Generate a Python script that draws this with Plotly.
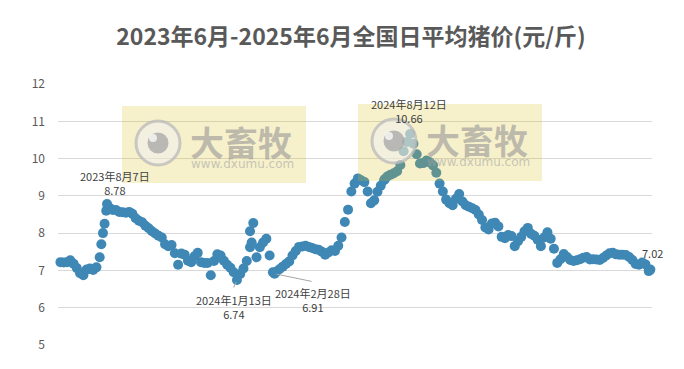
import pandas as pd
import plotly.graph_objects as go

TITLE = "2023年6月-2025年6月全国日平均猪价(元/斤)"

# Regular sampling of the daily series, every 4 days
grid_start = "2023-06-07"
grid_step_days = 4
grid_prices = [
    7.22, 7.22, 7.21, 7.22, 7.27, 7.18, 7.06, 6.92, 6.87, 7.02,
    7.05, 7.01, 7.08, 7.35, 8.00, 8.60, 8.68, 8.62, 8.62, 8.57,
    8.56, 8.55, 8.57, 8.52, 8.40, 8.33, 8.29, 8.20, 8.13, 8.05,
    7.99, 7.93, 7.88, 7.70, 7.65, 7.68, 7.46, 7.15, 7.45, 7.42,
    7.26, 7.22, 7.38, 7.47, 7.22, 7.20, 7.20, 6.87, 7.25, 7.43,
    7.40, 7.26, 7.15, 7.07, 6.95, 6.74, 6.90, 7.05, 7.25, 7.62,
    8.27, 7.35, 7.62, 7.75, 7.85, 7.40, 6.95, 6.96, 7.03, 7.10,
    7.17, 7.24, 7.40, 7.52, 7.63, 7.64, 7.66, 7.63, 7.60, 7.57,
    7.55, 7.50, 7.42, 7.48, 7.54, 7.52, 7.66, 7.88, 8.30, 8.63,
    9.12, 9.33, 9.47, 9.42, 9.37, 9.12, 8.80, 8.88, 9.11, 9.27,
    9.42, 9.52, 9.57, 9.61, 9.66, 9.83, 10.20, 10.45, 10.66, 10.40,
    10.12, 9.87, 9.88, 9.95, 9.90, 9.82, 9.62, 9.33, 9.12, 8.90,
    8.80, 8.75, 8.92, 9.05, 8.85, 8.75, 8.71, 8.67, 8.62, 8.50,
    8.35, 8.15, 8.10, 8.26, 8.28, 8.18, 7.90, 7.86, 7.95, 7.92,
    7.65, 7.78, 7.90, 8.05, 8.14, 7.98, 7.93, 7.82, 7.65, 7.88,
    8.02, 7.85, 7.58, 7.20, 7.30, 7.44, 7.36, 7.28, 7.25, 7.27,
    7.30, 7.34, 7.36, 7.29, 7.30, 7.29, 7.28, 7.33, 7.40, 7.46,
    7.47, 7.43, 7.42, 7.42, 7.41, 7.36, 7.28, 7.17, 7.15, 7.21,
    7.16, 6.98,
]

# Additional individually-read days
extra_dates = ["2023-07-31", "2023-08-04", "2023-08-07", "2024-01-29", "2024-01-31",
               "2024-02-28", "2024-07-12", "2025-06-02"]
extra_prices = [7.70, 8.25, 8.78, 8.05, 7.75, 6.91, 9.45, 7.02]

# Labelled points
label_dates = ["2023-08-07", "2024-01-13", "2024-02-28", "2024-08-12", "2025-06-02"]
label_values = [8.78, 6.74, 6.91, 10.66, 7.02]
label_texts = ["2023年8月7日<br>8.78", "2024年1月13日<br>6.74", "2024年2月28日<br>6.91",
               "2024年8月12日<br>10.66", "7.02"]

y_ticks = [5, 6, 7, 8, 9, 10, 11, 12]

grid_dates = pd.date_range(grid_start, periods=len(grid_prices), freq=f"{grid_step_days}D")
df = pd.DataFrame({"date": list(grid_dates) + list(pd.to_datetime(extra_dates)),
                   "price": grid_prices + extra_prices}).sort_values("date")

W, H = 684, 369
ML, MR, MT, MB = 58, 32, 84, 24
PW, PH = W - ML - MR, H - MT - MB

def px_x(px):
    return (px - ML) / PW

def px_y(py):
    return (H - MB - py) / PH

FONT = "Noto Sans CJK SC"
BLUE = "#3f88b5"

fig = go.Figure()
fig.add_trace(go.Scatter(
    x=df["date"], y=df["price"], mode="markers",
    marker=dict(size=10, color=BLUE, line=dict(width=0)),
    cliponaxis=False, hoverinfo="skip", showlegend=False,
))

annotations = []
shapes = []

# data labels
label_offsets = [(8, 21), (-3, -26.5), (38.5, -26), (-1.5, 23), (2, 17)]
for d, v, t, (dx, dy) in zip(label_dates, label_values, label_texts, label_offsets):
    annotations.append(dict(x=d, y=v, xref="x", yref="y", text=t, showarrow=False,
                            xshift=dx, yshift=dy, align="center",
                            xanchor="center", yanchor="middle",
                            font=dict(family=FONT, size=11, color="#404040")))

# leader lines for the two lows
for d, v, (ax, ay) in zip(["2024-01-13", "2024-02-28"], [6.74, 6.91], [(-4, 9), (38.5, 8)]):
    annotations.append(dict(x=d, y=v, xref="x", yref="y", text="", showarrow=True,
                            ax=ax, ay=ay, arrowhead=0, arrowwidth=1,
                            arrowcolor="#a6a6a6", standoff=2))

# watermarks
def watermark(x0, y0):
    w, h = 184, 77
    shapes.append(dict(type="rect", xref="paper", yref="paper",
                       x0=px_x(x0), x1=px_x(x0 + w), y0=px_y(y0 + h), y1=px_y(y0),
                       fillcolor="rgba(215,188,20,0.22)", line=dict(width=0), layer="above"))
    cx, cy, r = x0 + 36, y0 + 37, 22
    shapes.append(dict(type="circle", xref="paper", yref="paper",
                       x0=px_x(cx - r), x1=px_x(cx + r), y0=px_y(cy + r), y1=px_y(cy - r),
                       fillcolor="rgba(240,240,240,0.55)",
                       line=dict(color="rgba(185,185,185,0.75)", width=3), layer="above"))
    ir = 10.5
    shapes.append(dict(type="circle", xref="paper", yref="paper",
                       x0=px_x(cx - ir), x1=px_x(cx + ir), y0=px_y(cy + ir), y1=px_y(cy - ir),
                       fillcolor="rgba(165,165,165,0.75)", line=dict(width=0), layer="above"))
    hx, hy, hr = cx - 5, cy - 5, 4
    shapes.append(dict(type="circle", xref="paper", yref="paper",
                       x0=px_x(hx - hr), x1=px_x(hx + hr), y0=px_y(hy + hr), y1=px_y(hy - hr),
                       fillcolor="rgba(245,245,245,0.85)", line=dict(width=0), layer="above"))
    annotations.append(dict(x=px_x(x0 + 119), y=px_y(y0 + 35), xref="paper", yref="paper",
                            xanchor="center", yanchor="middle",
                            text="<b>大畜牧</b>", showarrow=False,
                            font=dict(family=FONT, size=34, color="rgba(150,150,150,0.6)")))
    annotations.append(dict(x=px_x(x0 + 120), y=px_y(y0 + 58), xref="paper", yref="paper",
                            xanchor="center", yanchor="middle",
                            text="www.dxumu.com", showarrow=False,
                            font=dict(family="DejaVu Sans", size=12, color="rgba(165,165,165,0.6)")))

watermark(122, 106)
watermark(358, 104)

fig.update_layout(
    width=W, height=H,
    margin=dict(l=ML, r=MR, t=MT, b=MB, pad=0),
    paper_bgcolor="white", plot_bgcolor="white",
    title=dict(text=f"<b>{TITLE}</b>", x=351 / W, xanchor="center", xref="container",
               y=1 - 37 / H, yanchor="middle", yref="container",
               font=dict(family=FONT, size=23, color="#595959")),
    xaxis=dict(type="date", range=["2023-06-07 23:30", "2025-06-04"],
               showgrid=False, showticklabels=False, zeroline=False, showline=False, ticks=""),
    yaxis=dict(range=[4.995, 12.005], tickvals=y_ticks, showgrid=True, gridcolor="#d9d9d9",
               gridwidth=1, zeroline=False, showline=False, ticks="",
               tickfont=dict(family=FONT, size=12, color="#595959"),
               ticklabelstandoff=12),
    annotations=annotations,
    shapes=shapes,
    font=dict(family=FONT),
)

fig.write_html("out.html")
